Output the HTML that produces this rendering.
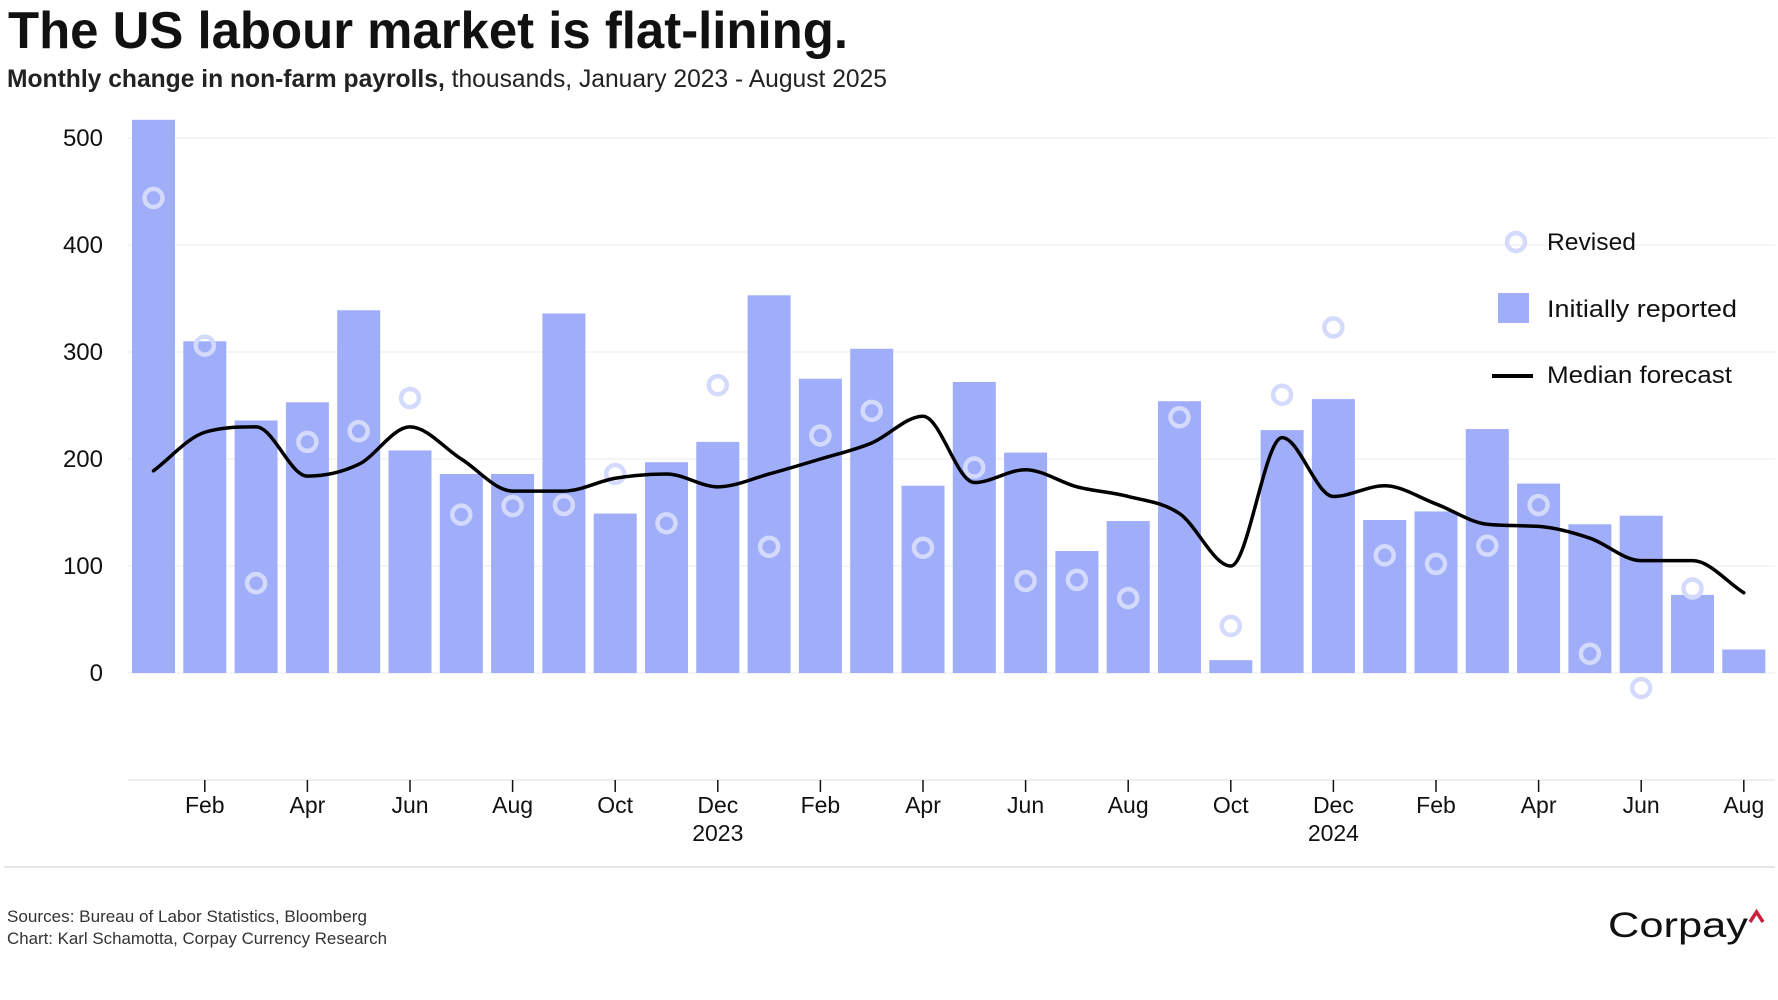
<!DOCTYPE html>
<html><head><meta charset="utf-8"><style>
html,body{margin:0;padding:0;background:#fff;}
svg{display:block;font-family:"Liberation Sans",sans-serif;}
</style></head><body>
<svg id="chart" width="1778" height="1000" viewBox="0 0 1778 1000" xmlns="http://www.w3.org/2000/svg">
<text x="8" y="48" font-size="52" font-weight="bold" fill="#111" textLength="840" lengthAdjust="spacingAndGlyphs">The US labour market is flat-lining.</text>
<text x="7" y="87" font-size="25" fill="#222" textLength="880" lengthAdjust="spacingAndGlyphs"><tspan font-weight="bold">Monthly change in non-farm payrolls,</tspan> thousands, January 2023 - August 2025</text>
<g id="grid"></g>
<g id="yaxis"></g>
<g id="bars"></g>
<g id="circles"></g>
<path id="median" fill="none" stroke="#000" stroke-width="3.5" stroke-linejoin="round" stroke-linecap="round"></path>
<g id="xaxis"></g>
<g>
  <circle cx="1516" cy="242" r="9" fill="none" stroke="#d4dafc" stroke-width="4.5"/>
  <text x="1547" y="250" font-size="24" fill="#111" textLength="89" lengthAdjust="spacingAndGlyphs">Revised</text>
  <rect x="1498" y="293" width="31" height="30" fill="#a0adf9"/>
  <text x="1547" y="317" font-size="24" fill="#111" textLength="190" lengthAdjust="spacingAndGlyphs">Initially reported</text>
  <line x1="1492" y1="376" x2="1533" y2="376" stroke="#000" stroke-width="4"/>
  <text x="1547" y="383" font-size="24" fill="#111" textLength="185" lengthAdjust="spacingAndGlyphs">Median forecast</text>
</g>
<line x1="4" y1="867" x2="1775" y2="867" stroke="#ddd" stroke-width="1.5"/>
<text x="7" y="922" font-size="17" fill="#333" textLength="360" lengthAdjust="spacingAndGlyphs">Sources: Bureau of Labor Statistics, Bloomberg</text>
<text x="7" y="944" font-size="17" fill="#333" textLength="380" lengthAdjust="spacingAndGlyphs">Chart: Karl Schamotta, Corpay Currency Research</text>
<text x="1608" y="937" font-size="35" fill="#111" textLength="140" lengthAdjust="spacingAndGlyphs">Corpay</text>
<path d="M1750 922 L1756.5 912 L1763 922" fill="none" stroke="#c8203f" stroke-width="3.5"/>
</svg>
<script>
const months = ["Jan","Feb","Mar","Apr","May","Jun","Jul","Aug","Sep","Oct","Nov","Dec","Jan","Feb","Mar","Apr","May","Jun","Jul","Aug","Sep","Oct","Nov","Dec","Jan","Feb","Mar","Apr","May","Jun","Jul","Aug"];
const initialValues = [517,310,236,253,339,208,186,186,336,149,197,216,353,275,303,175,272,206,114,142,254,12,227,256,143,151,228,177,139,147,73,22];
const revisedValues = [444,306,84,216,226,257,148,156,157,186,140,269,118,222,245,117,192,86,87,70,239,44,260,323,110,102,119,157,18,-14,79,null];
const medianValues = [189,225,230,184,195,230,200,170,170,182,186,174,186,200,215,240,178,190,174,165,149,100,220,165,175,158,139,137,126,105,105,75];
const yTicks = [0,100,200,300,400,500];
const yearLabels = [{i:11,label:"2023"},{i:23,label:"2024"}];

const NS = "http://www.w3.org/2000/svg";
const y0px = 673, pxPer = 1.07, x0 = 132, pitch = 51.3, barW = 43;
function yScale(v){ return y0px - v*pxPer; }
function xScale(i){ return x0 + i*pitch + barW/2; }
function mk(tag, attrs, parent){ const e=document.createElementNS(NS,tag); for(const k in attrs) e.setAttribute(k,attrs[k]); parent.appendChild(e); return e; }

const grid=document.getElementById('grid'), yaxis=document.getElementById('yaxis');
yTicks.concat([-100]).forEach(t=>{
  const l=mk('line',{x1:128,x2:1775,y1:yScale(t),y2:yScale(t),stroke:t===-100?'#e8e8e8':'#f2f2f2','stroke-width':1.5},grid);
  
  
});
yTicks.forEach(t=>{
  const tx=mk('text',{x:103,y:yScale(t)+8,'font-size':24,'text-anchor':'end',fill:'#111'},yaxis);
  tx.textContent=t;
  
  
});
const bars=document.getElementById('bars');
initialValues.forEach((v,i)=>{
  const top=yScale(Math.max(v,0)), bot=yScale(Math.min(v,0));
  const r=mk('rect',{x:x0+i*pitch,y:top,width:barW,height:bot-top,fill:'#a0adf9'},bars);
  
  
});
const circles=document.getElementById('circles');
revisedValues.forEach((v,i)=>{
  if(v===null) return;
  const c=mk('circle',{cx:xScale(i),cy:yScale(v),r:9,fill:'none',stroke:'#d4dafc','stroke-width':4.5},circles);
  
  
});
(function(){
  const pts=medianValues.map((v,i)=>[xScale(i),yScale(v)]);
  const n=pts.length, d=[], m=[];
  for(let i=0;i<n-1;i++) d.push((pts[i+1][1]-pts[i][1])/(pts[i+1][0]-pts[i][0]));
  for(let i=0;i<n;i++){
    if(i===0) m.push(d[0]); else if(i===n-1) m.push(d[n-2]);
    else m.push(d[i-1]*d[i]<=0?0:(d[i-1]+d[i])/2);
  }
  for(let i=0;i<n-1;i++){ if(d[i]===0){m[i]=0;m[i+1]=0;continue;} const a=m[i]/d[i], b=m[i+1]/d[i], s=a*a+b*b; if(s>9){const t=3/Math.sqrt(s); m[i]=t*a*d[i]; m[i+1]=t*b*d[i];} }
  let p='M'+pts[0][0]+' '+pts[0][1];
  for(let i=0;i<n-1;i++){
    const h=(pts[i+1][0]-pts[i][0])/3;
    p+=' C'+(pts[i][0]+h)+' '+(pts[i][1]+m[i]*h)+' '+(pts[i+1][0]-h)+' '+(pts[i+1][1]-m[i+1]*h)+' '+pts[i+1][0]+' '+pts[i+1][1];
  }
  document.getElementById('median').setAttribute('d',p);
})();
const xaxis=document.getElementById('xaxis');
months.forEach((mo,i)=>{
  if(i%2!==1) return;
  const x=xScale(i);
  const tk=mk('line',{x1:x,x2:x,y1:780,y2:792,stroke:'#111','stroke-width':1.5},xaxis);
  
  
  const t=mk('text',{x:x,y:813,'font-size':23,'text-anchor':'middle',fill:'#111'},xaxis);
  t.textContent=mo;
  
  
});
yearLabels.forEach(o=>{
  const t=mk('text',{x:xScale(o.i),y:841,'font-size':23,'text-anchor':'middle',fill:'#111'},xaxis);
  t.textContent=o.label;
  
  
});
</script>
</body></html>
